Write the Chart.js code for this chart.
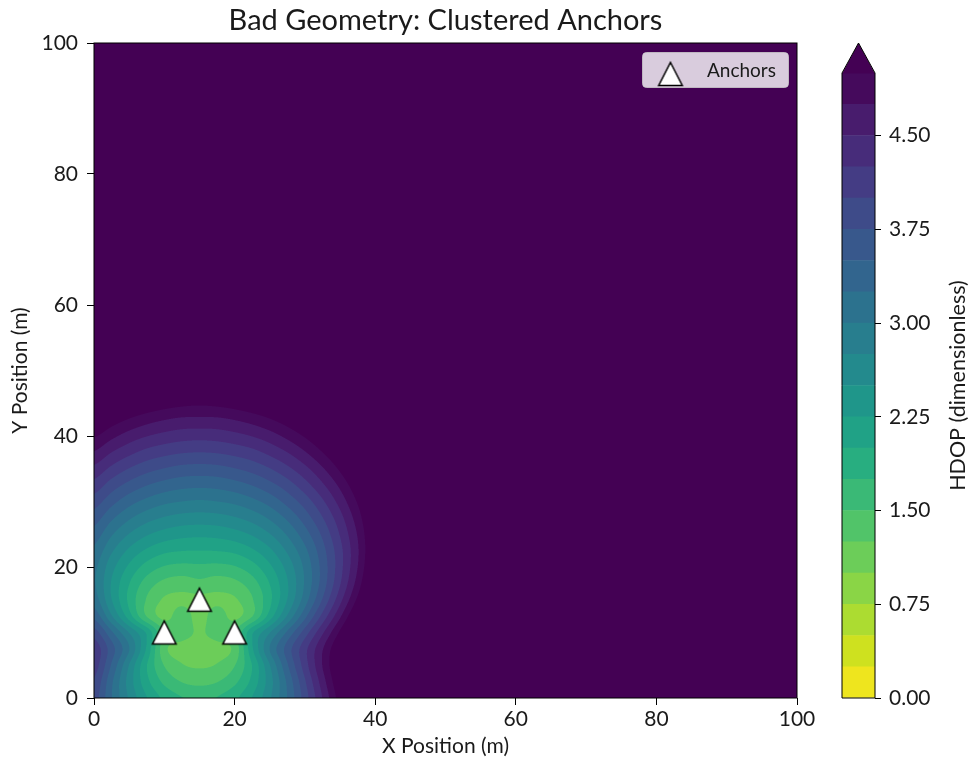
<!DOCTYPE html>
<html>
<head>
<meta charset="utf-8">
<script src="https://cdn.jsdelivr.net/npm/chart.js@4.4.1/dist/chart.umd.min.js"></script>
<style>
  body { margin: 0; background: #fff; }
  #wrap { position: relative; width: 971px; height: 762px; }
  #main { position: absolute; left: 0; top: 0; }
  #cbar { position: absolute; left: 800px; top: 0; }
</style>
</head>
<body>
<div id="wrap">
  <canvas id="main" width="971" height="762"></canvas>
  <canvas id="cbar" width="171" height="762"></canvas>
</div>
<script>
// HDOP on a 2.5 m grid (rows = y, cols = x); everything
// outside this block is above 5 (the extended top colour)
const xGrid = [0, 2.5, 5, 7.5, 10, 12.5, 15, 17.5, 20, 22.5, 25, 27.5, 30, 32.5, 35, 37.5, 40];
const yGrid = [0, 2.5, 5, 7.5, 10, 12.5, 15, 17.5, 20, 22.5, 25, 27.5, 30, 32.5, 35, 37.5, 40, 42.5, 45];
const hdopGrid = [
  [3.87, 3.26, 2.71, 2.26, 1.94, 1.76, 1.70, 1.76, 1.94, 2.26, 2.71, 3.26, 3.87, 4.51, 5.15, 5.79, 6.41],
  [3.97, 3.30, 2.64, 2.08, 1.69, 1.49, 1.43, 1.49, 1.69, 2.08, 2.64, 3.30, 3.97, 4.63, 5.27, 5.89, 6.50],
  [4.13, 3.47, 2.74, 2.01, 1.49, 1.27, 1.22, 1.27, 1.49, 2.01, 2.74, 3.47, 4.13, 4.76, 5.36, 5.94, 6.53],
  [4.17, 3.61, 3.01, 2.21, 1.33, 1.16, 1.16, 1.16, 1.33, 2.21, 3.01, 3.61, 4.17, 4.73, 5.30, 5.87, 6.45],
  [3.87, 3.30, 2.74, 2.21, 1.50, 1.37, 1.22, 1.37, 1.50, 2.21, 2.74, 3.30, 3.87, 4.46, 5.05, 5.64, 6.24],
  [3.43, 2.78, 2.12, 1.49, 1.18, 1.37, 1.16, 1.37, 1.18, 1.49, 2.12, 2.78, 3.43, 4.08, 4.71, 5.35, 5.97],
  [3.13, 2.51, 1.94, 1.48, 1.22, 1.20, 1.18, 1.20, 1.22, 1.48, 1.94, 2.51, 3.13, 3.77, 4.42, 5.06, 5.70],
  [3.03, 2.48, 2.01, 1.64, 1.43, 1.37, 1.43, 1.37, 1.43, 1.64, 2.01, 2.48, 3.03, 3.61, 4.23, 4.86, 5.49],
  [3.06, 2.59, 2.20, 1.90, 1.73, 1.68, 1.70, 1.68, 1.73, 1.90, 2.20, 2.59, 3.06, 3.59, 4.16, 4.75, 5.36],
  [3.19, 2.79, 2.45, 2.21, 2.06, 2.01, 2.00, 2.01, 2.06, 2.21, 2.45, 2.79, 3.19, 3.66, 4.17, 4.72, 5.30],
  [3.39, 3.03, 2.74, 2.53, 2.40, 2.33, 2.31, 2.33, 2.40, 2.53, 2.74, 3.03, 3.39, 3.80, 4.27, 4.77, 5.31],
  [3.62, 3.30, 3.04, 2.85, 2.73, 2.66, 2.64, 2.66, 2.73, 2.85, 3.04, 3.30, 3.62, 3.99, 4.41, 4.88, 5.38],
  [3.87, 3.59, 3.35, 3.18, 3.06, 3.00, 2.97, 3.00, 3.06, 3.18, 3.35, 3.59, 3.87, 4.21, 4.60, 5.03, 5.49],
  [4.15, 3.88, 3.67, 3.51, 3.40, 3.33, 3.31, 3.33, 3.40, 3.51, 3.67, 3.88, 4.15, 4.46, 4.81, 5.21, 5.64],
  [4.43, 4.19, 3.99, 3.84, 3.74, 3.67, 3.65, 3.67, 3.74, 3.84, 3.99, 4.19, 4.43, 4.72, 5.05, 5.42, 5.82],
  [4.73, 4.50, 4.32, 4.17, 4.08, 4.02, 4.00, 4.02, 4.08, 4.17, 4.32, 4.50, 4.73, 5.00, 5.30, 5.64, 6.02],
  [5.03, 4.82, 4.64, 4.51, 4.42, 4.36, 4.34, 4.36, 4.42, 4.51, 4.64, 4.82, 5.03, 5.28, 5.57, 5.89, 6.24],
  [5.34, 5.14, 4.98, 4.85, 4.76, 4.70, 4.69, 4.70, 4.76, 4.85, 4.98, 5.14, 5.34, 5.57, 5.85, 6.15, 6.50],
  [5.65, 5.46, 5.31, 5.19, 5.10, 5.05, 5.03, 5.05, 5.10, 5.19, 5.31, 5.46, 5.65, 5.87, 6.13, 6.41, 6.75],
];

const anchorX = [10, 20, 15];
const anchorY = [10, 10, 15];

const levels = [0, 0.25, 0.5, 0.75, 1, 1.25, 1.5, 1.75, 2, 2.25, 2.5, 2.75, 3, 3.25, 3.5, 3.75, 4, 4.25, 4.5, 4.75, 5];
const cbTicks = [0, 0.75, 1.5, 2.25, 3, 3.75, 4.5];
const axisTicks = [0, 20, 40, 60, 80, 100];

// viridis reversed, one colour per band, plus the "over" colour
const bandColors = [
  "#eee51e", "#cee11f", "#acdc31", "#8ad546", "#6ccd59",
  "#51c469", "#3ab976", "#28ae80", "#20a286", "#1f968a",
  "#238a8d", "#287e8e", "#2c728e", "#32658e", "#38588c",
  "#3e4b89", "#443c84", "#472c7a", "#481c6d", "#450a5c",
];
const overColor = "#440154";

const FONT = "Lato, 'Open Sans', sans-serif";
const TEXT = "#1a1a1a";

function hexRgb(h) {
  return [parseInt(h.slice(1, 3), 16), parseInt(h.slice(3, 5), 16), parseInt(h.slice(5, 7), 16)];
}
const bandRgb = bandColors.map(hexRgb);
const overRgb = hexRgb(overColor);

function clamp(v, lo, hi) {
  return v < lo ? lo : v > hi ? hi : v;
}

function cubic(p0, p1, p2, p3, t) {
  return p1 + 0.5 * t * (p2 - p0 + t * (2 * p0 - 5 * p1 + 4 * p2 - p3 + t * (3 * (p1 - p2) + p3 - p0)));
}

// smooth lookup in the grid, limited to the values of the surrounding cell
function sample(x, y) {
  const nx = xGrid.length, ny = yGrid.length;
  if (x < xGrid[0] || y < yGrid[0] || x > xGrid[nx - 1] || y > yGrid[ny - 1]) return Infinity;
  const fx = (x - xGrid[0]) / (xGrid[1] - xGrid[0]);
  const fy = (y - yGrid[0]) / (yGrid[1] - yGrid[0]);
  const i = Math.min(Math.floor(fx), nx - 2);
  const j = Math.min(Math.floor(fy), ny - 2);
  const tx = fx - i, ty = fy - j;
  const col = [];
  for (let m = -1; m <= 2; m++) {
    const row = hdopGrid[clamp(j + m, 0, ny - 1)];
    col.push(cubic(row[clamp(i - 1, 0, nx - 1)], row[i], row[i + 1], row[clamp(i + 2, 0, nx - 1)], tx));
  }
  let v = cubic(col[0], col[1], col[2], col[3], ty);
  const c = [hdopGrid[j][i], hdopGrid[j][i + 1], hdopGrid[j + 1][i], hdopGrid[j + 1][i + 1]];
  return clamp(v, Math.min(...c), Math.max(...c));
}

function rgbFor(v) {
  if (v >= levels[levels.length - 1]) return overRgb;
  let k = 0;
  while (k < levels.length - 2 && v >= levels[k + 1]) k++;
  return bandRgb[k];
}

function makeTriangle() {
  const c = document.createElement("canvas");
  c.width = 30;
  c.height = 30;
  const t = c.getContext("2d");
  t.beginPath();
  t.moveTo(15, 3.5);
  t.lineTo(26.8, 26.5);
  t.lineTo(3.2, 26.5);
  t.closePath();
  t.fillStyle = "#fff";
  t.fill();
  t.lineWidth = 1.5;
  t.lineJoin = "miter";
  t.strokeStyle = "#000";
  t.stroke();
  return c;
}
const triangleMarker = makeTriangle();

// filled contour field, drawn pixel by pixel through the chart scales
const hdopField = {
  id: "hdopField",
  beforeDatasetsDraw(chart) {
    const { ctx, chartArea: a, scales: { x: xs, y: ys } } = chart;
    const w = Math.round(a.right - a.left), h = Math.round(a.bottom - a.top);
    const off = document.createElement("canvas");
    off.width = w;
    off.height = h;
    const img = off.getContext("2d").createImageData(w, h);
    const ss = 3;
    const colX = [], rowY = [];
    for (let i = 0; i < w * ss; i++) colX.push(xs.getValueForPixel(a.left + (i + 0.5) / ss));
    for (let j = 0; j < h * ss; j++) rowY.push(ys.getValueForPixel(a.top + (j + 0.5) / ss));
    const xMax = xGrid[xGrid.length - 1] + 1, yMax = yGrid[yGrid.length - 1] + 1;
    for (let j = 0; j < h; j++) {
      for (let i = 0; i < w; i++) {
        const p = (j * w + i) * 4;
        let r = 0, g = 0, b = 0;
        if (colX[i * ss] > xMax || rowY[j * ss + ss - 1] > yMax) {
          [r, g, b] = overRgb;
        } else {
          for (let sj = 0; sj < ss; sj++) {
            for (let si = 0; si < ss; si++) {
              const c = rgbFor(sample(colX[i * ss + si], rowY[j * ss + sj]));
              r += c[0]; g += c[1]; b += c[2];
            }
          }
          r /= ss * ss; g /= ss * ss; b /= ss * ss;
        }
        img.data[p] = r;
        img.data[p + 1] = g;
        img.data[p + 2] = b;
        img.data[p + 3] = 255;
      }
    }
    off.getContext("2d").putImageData(img, 0, 0);
    ctx.drawImage(off, a.left, a.top);
    ctx.save();
    ctx.strokeStyle = "#000";
    ctx.lineWidth = 1;
    ctx.strokeRect(a.left, a.top, a.right - a.left, a.bottom - a.top);
    ctx.restore();
  },
};

// legend box in the upper right corner
const legendBox = {
  id: "legendBox",
  afterDatasetsDraw(chart) {
    const { ctx } = chart;
    ctx.save();
    ctx.beginPath();
    ctx.roundRect(642.5, 52.5, 146, 35, 4);
    ctx.fillStyle = "rgba(255,255,255,0.8)";
    ctx.fill();
    ctx.strokeStyle = "rgba(204,204,204,0.8)";
    ctx.lineWidth = 1;
    ctx.stroke();
    ctx.drawImage(triangleMarker, 670.5 - 15, 74 - 15);
    ctx.fillStyle = TEXT;
    ctx.font = "19px " + FONT;
    ctx.textBaseline = "middle";
    ctx.textAlign = "left";
    ctx.fillText(chart.data.datasets[0].label, 707, 71);
    ctx.restore();
  },
};

const tickFont = { family: FONT, size: 21 };
const titleFont = { family: FONT, size: 21 };

new Chart(document.getElementById("main"), {
  type: "scatter",
  data: {
    datasets: [
      {
        label: "Anchors",
        data: anchorX.map((x, i) => ({ x: x, y: anchorY[i] })),
        pointStyle: triangleMarker,
        pointRadius: 12,
        pointHoverRadius: 12,
      },
    ],
  },
  options: {
    responsive: false,
    animation: false,
    events: [],
    layout: { padding: { left: 0, right: 174, top: 0, bottom: 0 } },
    plugins: {
      legend: { display: false },
      tooltip: { enabled: false },
      title: {
        display: true,
        fullSize: false,
        text: "Bad Geometry: Clustered Anchors",
        color: TEXT,
        font: { family: FONT, size: 29, weight: "normal", lineHeight: 1.2 },
        padding: { top: 3, bottom: 5.2 },
      },
    },
    scales: {
      x: {
        type: "linear",
        min: 0,
        max: 100,
        afterBuildTicks: (s) => { s.ticks = axisTicks.map((v) => ({ value: v })); },
        afterFit: (s) => { s.height = 64; },
        ticks: { font: tickFont, color: TEXT, padding: 2, maxRotation: 0 },
        grid: { drawOnChartArea: false, drawTicks: true, tickLength: 7, tickColor: "#000" },
        border: { display: false },
        title: { display: true, text: "X Position (m)", font: titleFont, color: TEXT, padding: { top: 0, bottom: 3 } },
      },
      y: {
        type: "linear",
        min: 0,
        max: 100,
        afterBuildTicks: (s) => { s.ticks = axisTicks.map((v) => ({ value: v })); },
        afterFit: (s) => { s.width = 94; },
        ticks: { font: tickFont, color: TEXT, padding: 9 },
        grid: { drawOnChartArea: false, drawTicks: true, tickLength: 7, tickColor: "#000" },
        border: { display: false },
        title: { display: true, text: "Y Position (m)", font: titleFont, color: TEXT, padding: { top: 8, bottom: 0 } },
      },
    },
  },
  plugins: [hdopField, legendBox],
});

// colour bar: one floating bar per contour band, plus the extend arrow
const cbDecor = {
  id: "cbDecor",
  afterDraw(chart) {
    const { ctx, chartArea: a } = chart;
    const tipY = a.top - 30;
    const cx = (a.left + a.right) / 2;
    ctx.save();
    ctx.beginPath();
    ctx.moveTo(a.left, a.top + 0.5);
    ctx.lineTo(cx, tipY);
    ctx.lineTo(a.right, a.top + 0.5);
    ctx.closePath();
    ctx.fillStyle = overColor;
    ctx.fill();
    ctx.beginPath();
    ctx.moveTo(a.left, a.bottom);
    ctx.lineTo(a.left, a.top);
    ctx.lineTo(cx, tipY);
    ctx.lineTo(a.right, a.top);
    ctx.lineTo(a.right, a.bottom);
    ctx.closePath();
    ctx.strokeStyle = "#000";
    ctx.lineWidth = 1;
    ctx.stroke();
    ctx.translate(158, (a.top + a.bottom) / 2);
    ctx.rotate(-Math.PI / 2);
    ctx.fillStyle = TEXT;
    ctx.font = "21.5px " + FONT;
    ctx.textAlign = "center";
    ctx.textBaseline = "middle";
    ctx.fillText("HDOP (dimensionless)", 0, 0);
    ctx.restore();
  },
};

new Chart(document.getElementById("cbar"), {
  type: "bar",
  data: {
    labels: [""],
    datasets: bandColors.map((c, k) => ({
      label: levels[k] + "-" + levels[k + 1],
      data: [[levels[k], levels[k + 1]]],
      backgroundColor: c,
      borderWidth: 0,
      barPercentage: 1,
      categoryPercentage: 1,
      grouped: false,
    })),
  },
  options: {
    responsive: false,
    animation: false,
    events: [],
    layout: { padding: { left: 42, top: 73, bottom: 64, right: 0 } },
    plugins: { legend: { display: false }, tooltip: { enabled: false } },
    scales: {
      x: { display: false },
      y: {
        position: "right",
        min: 0,
        max: 5,
        afterBuildTicks: (s) => { s.ticks = cbTicks.map((v) => ({ value: v })); },
        afterFit: (s) => { s.width = 96; },
        ticks: { font: tickFont, color: TEXT, padding: 8, callback: (v) => Number(v).toFixed(2) },
        grid: { drawOnChartArea: false, drawTicks: true, tickLength: 6, tickColor: "#000" },
        border: { display: false },
      },
    },
  },
  plugins: [cbDecor],
});
</script>
</body>
</html>
